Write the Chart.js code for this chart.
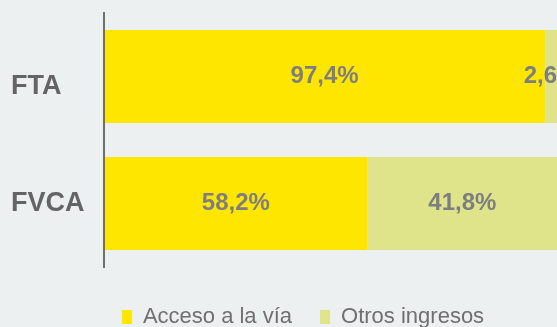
<!DOCTYPE html>
<html>
<head>
<meta charset="utf-8">
<script src="https://cdn.jsdelivr.net/npm/chart.js@4/dist/chart.umd.min.js"></script>
<style>
  html, body { margin: 0; padding: 0; background: #ecf0f1; overflow: hidden; }
  #wrap { width: 557px; height: 327px; position: relative; }
</style>
</head>
<body>
<div id="wrap"><canvas id="chart"></canvas></div>
<script>
// Revenue mix per concession (percent of total)
const categories = ['FTA', 'FVCA'];
const seriesNames = ['Acceso a la vía', 'Otros ingresos'];
const accesoVia = [97.4, 58.2];
const otrosIngresos = [2.6, 41.8];

const COLORS = {
  acceso: '#ffe600',
  otros: '#dfe48a',
  axis: '#6d6e70',
  category: '#646464',
  value: '#7e7e80',
  legend: '#6f6f6f'
};
const FONT = '"Liberation Sans", Arial, sans-serif';

// Formats a percentage with a decimal comma, e.g. 97,4%
const fmtPct = v => v.toFixed(1).replace('.', ',') + '%';

// Writes each segment's value in the middle of its visible part
const segmentLabels = {
  id: 'segmentLabels',
  afterDatasetsDraw(chart) {
    const { ctx, chartArea } = chart;
    ctx.save();
    ctx.font = 'bold 24px ' + FONT;
    ctx.fillStyle = COLORS.value;
    ctx.textAlign = 'center';
    ctx.textBaseline = 'middle';
    chart.data.datasets.forEach((ds, di) => {
      chart.getDatasetMeta(di).data.forEach((bar, i) => {
        const left = Math.max(Math.min(bar.base, bar.x), chartArea.left);
        const right = Math.min(Math.max(bar.base, bar.x), chartArea.right);
        ctx.fillText(fmtPct(ds.data[i]), (left + right) / 2, bar.y);
      });
    });
    ctx.restore();
  }
};

// Moves the legend block slightly right and down under the bars
const legendOffset = { x: 19, y: 11 };
const legendPlacement = {
  id: 'legendPlacement',
  afterLayout(chart) {
    const lg = chart.legend;
    if (!lg) return;
    lg.left += legendOffset.x; lg.right += legendOffset.x;
    lg.top += legendOffset.y; lg.bottom += legendOffset.y;
  }
};

new Chart(document.getElementById('chart'), {
  type: 'bar',
  data: {
    labels: categories,
    datasets: [
      { label: seriesNames[0], data: accesoVia, backgroundColor: COLORS.acceso, borderWidth: 0 },
      { label: seriesNames[1], data: otrosIngresos, backgroundColor: COLORS.otros, borderWidth: 0 }
    ]
  },
  options: {
    indexAxis: 'y',
    responsive: true,
    maintainAspectRatio: false,
    animation: false,
    layout: { padding: { top: 13, left: 11, right: 0, bottom: 0 } },
    datasets: { bar: { categoryPercentage: 1, barPercentage: 0.732 } },
    scales: {
      x: { stacked: true, min: 0, max: 100, display: false },
      y: {
        stacked: true,
        grid: { display: false },
        border: { display: true, color: COLORS.axis, width: 2, z: 1 },
        afterFit(scale) { scale.width = 93; },
        ticks: {
          crossAlign: 'far',
          color: COLORS.category,
          font: { family: FONT, size: 27, weight: 'bold', lineHeight: '20px' },
          // the first row's label sits a little below its bar centre
          callback(value, index) {
            const name = categories[index];
            return index === 0 ? ['', name] : name;
          }
        }
      }
    },
    plugins: {
      tooltip: { enabled: false },
      legend: {
        position: 'bottom',
        labels: {
          boxWidth: 10,
          boxHeight: 14,
          padding: 28,
          color: COLORS.legend,
          font: { family: FONT, size: 22 }
        }
      }
    }
  },
  plugins: [segmentLabels, legendPlacement]
});
</script>
</body>
</html>
